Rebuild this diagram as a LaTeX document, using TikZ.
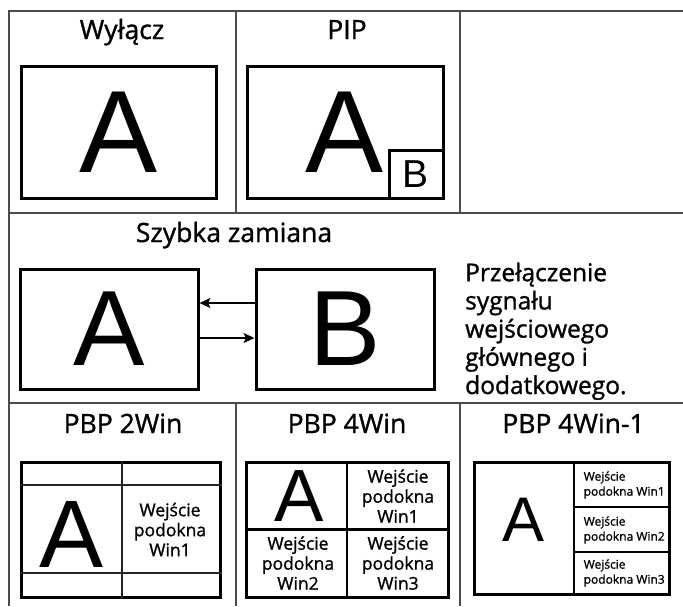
\documentclass[tikz,border=0pt]{standalone}
\usepackage{fontspec}
\setmainfont{Open Sans}[FakeBold=1.2]
\newfontfamily\glyphfont{Liberation Sans}
\usetikzlibrary{arrows.meta}
\begin{document}
\begin{tikzpicture}[x=1pt,y=-1pt,
  grid/.style={draw=black!70,line width=1.3pt},
  scr/.style={draw=black,line width=3pt,inner sep=0pt},
  cell/.style={draw=black,line width=2.6pt,inner sep=0pt},
  title/.style={anchor=base,font=\fontsize{26.5}{30}\selectfont,inner sep=0pt},
  big/.style={inner sep=0pt,font=\glyphfont\fontsize{#1}{#1}\selectfont},
  sub/.style={align=center,inner sep=0pt,font=\fontsize{17.5}{20}\selectfont},
  tiny/.style={align=left,inner sep=0pt,anchor=west,font=\fontsize{12}{15}\selectfont},
  swap/.style={-{Stealth[length=11pt,width=10pt,inset=2.5pt]},line width=1.5pt}]
\useasboundingbox (0,0) rectangle (683,606);
% table frame
\draw[grid] (683,11) -- (9,11) -- (9,606);
\draw[grid] (9,213) -- (683,213);
\draw[grid] (9,403) -- (683,403);
\draw[grid] (236,11) -- (236,213);
\draw[grid] (460,11) -- (460,213);
\draw[grid] (236,403) -- (236,606);
\draw[grid] (460,403) -- (460,606);

% row 1: off and PIP
\node[title] (tOff) at (122,39) {Wyłącz};
\node[title] (tPip) at (347,39) {PIP};
\node[scr,minimum width=195pt,minimum height=132pt,big=117] (off) at (118.5,132) {A};
\node[scr,minimum width=196pt,minimum height=132pt,big=117] (pip) at (345,132) {A};
\node[scr,minimum width=54pt,minimum height=48pt,big=39] (pipB) at (416,174) {B};

% row 2: quick swap
\node[title] (tSwap) at (234,242) {Szybka zamiana};
\node[scr,minimum width=178pt,minimum height=120pt,big=107] (sA) at (109,329) {A};
\node[scr,minimum width=178pt,minimum height=120pt,big=107] (sB) at (345,329) {B};
\draw[swap] ([yshift=26pt]sB.west) -- ([yshift=26pt]sA.east);
\draw[swap] ([yshift=-9pt]sA.east) -- ([yshift=-9pt]sB.west);
\node[align=left,inner sep=0pt,anchor=base west,font=\fontsize{24.5}{28.2}\selectfont] (swapTxt) at (465,394)
  {Przełączenie\\sygnału\\wejściowego\\głównego i\\dodatkowego.};

% row 3: PBP layouts
\node[title] (t2) at (123,433) {PBP 2Win};
\node[title] (t4) at (347,433) {PBP 4Win};
\node[title] (t41) at (573.5,433) {PBP 4Win-1};

% PBP 2Win
\node[scr,minimum width=199pt,minimum height=135pt] (p2) at (120.5,529.5) {};
\coordinate (p2v) at (122,529.5);
\draw[draw=black!85,line width=2pt] (p2v |- p2.north) -- (p2v |- p2.south);
\draw[draw=black!85,line width=2pt] (p2.west |- 0,485) -- (p2.east |- 0,485);
\draw[draw=black!85,line width=2pt] (p2.west |- 0,573) -- (p2.east |- 0,573);
\node[big=96] (p2A) at (72,534.5) {A};
\node[sub] (p2W1) at (170,529.5) {Wejście\\podokna\\Win1};

% PBP 4Win
\node[scr,minimum width=202pt,minimum height=135pt] (p4) at (347,529.5) {};
\draw[cell] (p4.north) -- (p4.south);
\draw[cell] (p4.west) -- (p4.east);
\node[big=74] (p4A) at (299.5,496) {A};
\node[sub] (p4W1) at (398,496) {Wejście\\podokna\\Win1};
\node[sub] (p4W2) at (298,563) {Wejście\\podokna\\Win2};
\node[sub] (p4W3) at (398,563) {Wejście\\podokna\\Win3};

% PBP 4Win-1
\node[scr,minimum width=195pt,minimum height=132pt] (p41) at (571.5,528) {};
\coordinate (p41v) at (574,528);
\draw[cell] (p41v |- p41.north) -- (p41v |- p41.south);
\draw[cell] (p41v |- 0,507) -- (p41.east |- 0,507);
\draw[cell] (p41v |- 0,552) -- (p41.east |- 0,552);
\node[big=63] (p41A) at (524,519.5) {A};
\node[tiny] (p41W1) at (583.5,485) {Wejście\\podokna Win1};
\node[tiny] (p41W2) at (583.5,530) {Wejście\\podokna Win2};
\node[tiny] (p41W3) at (583.5,573) {Wejście\\podokna Win3};
\end{tikzpicture}
\end{document}
